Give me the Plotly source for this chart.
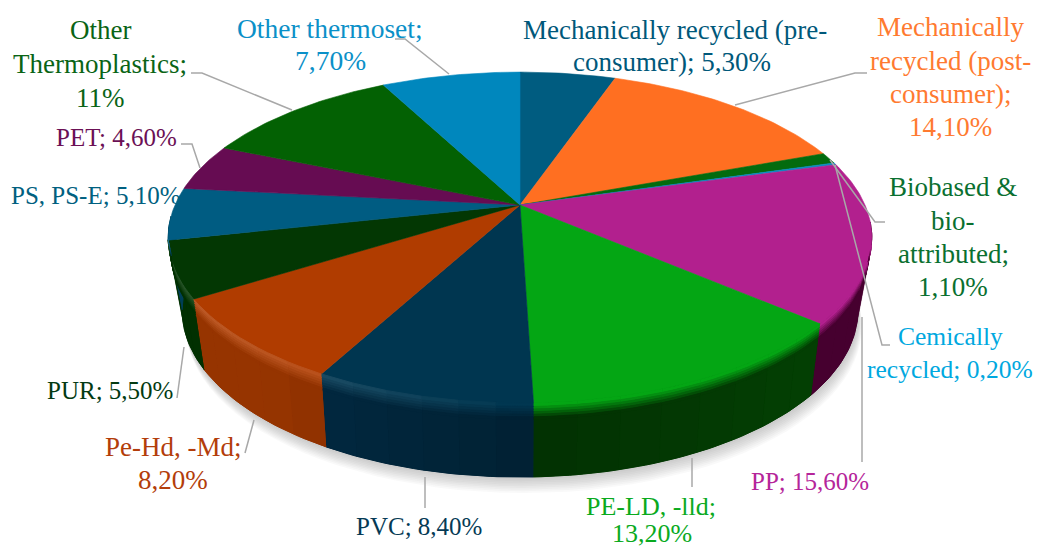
import math
import plotly.graph_objects as go

categories = ["Mechanically recycled (pre-consumer)", "Mechanically recycled (post-consumer)",
              "Biobased & bio-attributed", "Cemically recycled", "PP", "PE-LD, -lld", "PVC",
              "Pe-Hd, -Md", "PUR", "PS, PS-E", "PET", "Other Thermoplastics", "Other thermoset"]
values = [5.3, 14.1, 1.1, 0.2, 15.6, 13.2, 8.4, 8.2, 5.5, 5.1, 4.6, 11.0, 7.7]
top_colors = ["#005c80", "#ff6f21", "#036b0e", "#0a8cc4", "#b2208e", "#04a614", "#003650",
              "#b03c00", "#033703", "#005c82", "#660c52", "#036103", "#0087bd"]
side_colors = ["#003f58", "#b04a10", "#024a08", "#06607f", "#46002f", "#033f03", "#012a42",
               "#963400", "#013001", "#003f58", "#400634", "#024002", "#005d80"]
label_colors = ["#00587a", "#ff7a30", "#0a7030", "#00a8e0", "#b5259a", "#0aaa1e", "#053a55",
                "#b33d0a", "#033a12", "#006080", "#6b1055", "#0a6415", "#0b90c8"]
label_sizes = [27, 27, 27, 25.5, 25, 26, 25, 27, 25, 25, 25, 27, 27.5]
label_lines = [
    [("Mechanically recycled (pre-", 675, 30), ("consumer); 5,30%", 672, 62)],
    [("Mechanically", 950, 27), ("recycled (post-", 950, 61), ("consumer);", 950, 94), ("14,10%", 950, 127)],
    [("Biobased &", 953, 187), ("bio-", 953, 221), ("attributed;", 953, 254), ("1,10%", 953, 287)],
    [("Cemically", 950, 336), ("recycled; 0,20%", 950, 369)],
    [("PP; 15,60%", 810, 481)],
    [("PE-LD, -lld;", 651, 506), ("13,20%", 652, 533)],
    [("PVC; 8,40%", 419, 526)],
    [("Pe-Hd, -Md;", 173, 447), ("8,20%", 173, 480)],
    [("PUR; 5,50%", 110, 390)],
    [("PS, PS-E; 5,10%", 95, 195)],
    [("PET; 4,60%", 116, 137)],
    [("Other", 100, 30), ("Thermoplastics;", 100, 64), ("11%", 100, 98)],
    [("Other thermoset;", 330, 28), ("7,70%", 330, 60)],
]
leaders = [
    None,
    [(735, 105), (855, 73), (867, 73)],
    [(830, 160), (875, 222), (885, 222)],
    [(835, 165), (882, 345), (890, 345)],
    [(862, 317), (862, 462)],
    [(692, 458), (692, 487)],
    [(425, 477), (425, 508)],
    [(254, 420), (245, 453)],
    [(184, 347), (177, 398)],
    None,
    [(181, 144), (192, 144), (200, 168)],
    [(191, 73), (202, 73), (292, 110)],
    [(395, 39), (405, 39), (449, 74)],
]

CX, CY, A, B, K = 520, 205, 345, 159, 0.1965
CY2, A2, K2 = 274.5, 330, 0.215
WALL_START, WALL_END = 96, 266
BEVEL_START, BEVEL_END = 104, 258


def hex2rgb(c):
    return tuple(int(c[i:i + 2], 16) for i in (1, 3, 5))


def mix(c1, c2, t):
    a, b = hex2rgb(c1) if isinstance(c1, str) else c1, hex2rgb(c2) if isinstance(c2, str) else c2
    return tuple(a[i] + (b[i] - a[i]) * t for i in range(3))


def css(c):
    return "rgb(%d,%d,%d)" % tuple(round(v) for v in c)


def top_pt(deg):
    t = math.radians(deg)
    x, y = math.sin(t), math.cos(t)
    w = 1 + K * y
    return CX + A * x / w, CY - B * y / w


def bot_pt(deg):
    t = math.radians(deg)
    x, y = math.sin(t), math.cos(t)
    w = 1 + K2 * y
    return CX + A2 * x / w, CY2 - B * y / w


def frac_pt(deg, f):
    p, q = top_pt(deg), bot_pt(deg)
    return p[0] + (q[0] - p[0]) * f, p[1] + (q[1] - p[1]) * f


def poly(fig, xs, ys, color, width=0.6):
    fig.add_trace(go.Scatter(x=xs, y=ys, mode="lines", fill="toself", fillcolor=color,
                             line=dict(color=color, width=width), hoverinfo="skip", showlegend=False))


fig = go.Figure()

# soft shadow under the disc
for i in range(9):
    d = 16 - i * 1.7
    pts = [bot_pt(a) for a in range(0, 361, 3)]
    poly(fig, [p[0] + d * 0.25 for p in pts], [p[1] + d for p in pts], "rgba(90,90,90,0.035)", 0)

total = sum(values)
starts, c = [], 0.0
for v in values:
    starts.append(c / total * 360)
    c += v
ends = starts[1:] + [360.0]


def segments(s, e, first, last, step=6):
    lo, hi = max(s, first), min(e, last)
    if hi <= lo:
        return []
    n = max(1, math.ceil((hi - lo) / step))
    return [(lo + (hi - lo) * j / n, lo + (hi - lo) * (j + 1) / n) for j in range(n)]


def shade(deg):
    return 0.78 + 0.22 * min(1, abs(deg - 178) / 40)


# side wall
for s, e, sc in zip(starts, ends, side_colors):
    segs = segments(s, e, WALL_START, WALL_END)
    if not segs:
        continue
    lo, hi = segs[0][0], segs[-1][1]
    n = max(2, int(hi - lo) + 1)
    arc = [lo + (hi - lo) * j / n for j in range(n + 1)]
    p = [top_pt(a) for a in arc] + [bot_pt(a) for a in reversed(arc)]
    poly(fig, [u[0] for u in p], [u[1] for u in p], css(tuple(v * shade((lo + hi) / 2) for v in hex2rgb(sc))), 1)
    for a0, a1 in segs:
        col = css(tuple(v * shade((a0 + a1) / 2) for v in hex2rgb(sc)))
        p = [top_pt(a0 + (a1 - a0) * j / 3) for j in range(4)]
        q = [bot_pt(a1 - (a1 - a0) * j / 3) for j in range(4)]
        poly(fig, [u[0] for u in p + q], [u[1] for u in p + q], col, 0.4)

# top face
for s, e, tc in zip(starts, ends, top_colors):
    n = max(2, int(e - s) + 1)
    pts = [top_pt(s + (e - s) * j / n) for j in range(n + 1)]
    poly(fig, [CX] + [p[0] for p in pts] + [CX], [CY] + [p[1] for p in pts] + [CY], tc)

# bevel between face and wall
fracs = [0.0, 0.05, 0.085, 0.12, 0.155, 0.19, 0.225]
for s, e, tc, sc in zip(starts, ends, top_colors, side_colors):
    for a0, a1 in segments(s, e, BEVEL_START, BEVEL_END):
        mid = (a0 + a1) / 2
        h = max(0.0, math.cos(math.radians((mid - 235) / 55 * 90))) if 180 < mid < 290 else 0.0
        hi = mix(tc, "#ffffff", 0.14 * h)
        low = tuple(v * shade(mid) for v in hex2rgb(sc))
        for b, (f0, f1) in enumerate(zip(fracs, fracs[1:])):
            col = css(hi) if b == 0 else css(mix(hi, low, b / (len(fracs) - 2)))
            arc = [a0 + (a1 - a0) * j / 3 for j in range(4)]
            p = [frac_pt(a, f0) for a in arc] + [frac_pt(a, f1) for a in reversed(arc)]
            poly(fig, [u[0] for u in p], [u[1] for u in p], col, 1)

# leader lines
for pts in leaders:
    if pts:
        fig.add_trace(go.Scatter(x=[p[0] for p in pts], y=[p[1] for p in pts], mode="lines",
                                 line=dict(color="#a8a8a8", width=1.5), hoverinfo="skip", showlegend=False))

annotations = []
for lines, col, size in zip(label_lines, label_colors, label_sizes):
    for text, x, y in lines:
        annotations.append(dict(text=text, x=x, y=y, xref="x", yref="y", showarrow=False,
                                xanchor="center", yanchor="middle",
                                font=dict(family="Liberation Serif", size=size, color=col)))

fig.update_layout(width=1037, height=549, margin=dict(l=0, r=0, t=0, b=0),
                  paper_bgcolor="white", plot_bgcolor="white", annotations=annotations,
                  showlegend=False,
                  xaxis=dict(range=[0, 1037], visible=False, fixedrange=True),
                  yaxis=dict(range=[549, 0], visible=False, fixedrange=True))
fig.write_html("out.html", config={"displayModeBar": False},
               post_script="document.body.style.margin='0';document.body.style.overflow='hidden';")
